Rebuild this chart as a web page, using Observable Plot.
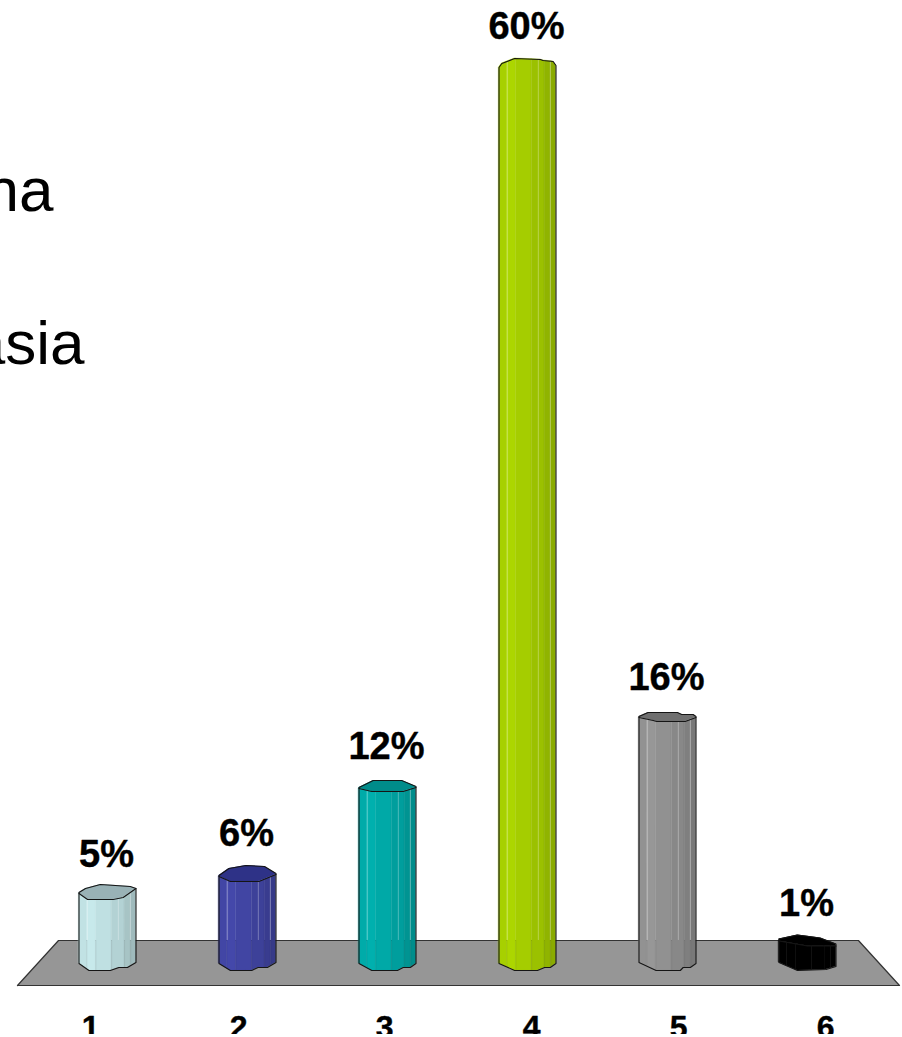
<!DOCTYPE html>
<html>
<head>
<meta charset="utf-8">
<script src="https://cdn.jsdelivr.net/npm/d3@7"></script>
<script src="https://cdn.jsdelivr.net/npm/@observablehq/plot@0.6"></script>
<style>
html,body{margin:0;padding:0;background:#fff;overflow:hidden}
svg{display:block}
</style>
</head>
<body>
<div id="chart"></div>
<script>
// Data
const categories = [1, 2, 3, 4, 5, 6];
const values = [4.6, 6, 11.8, 59.8, 16.4, 1.3];
const baseColors = ["#c7e9eb", "#4448aa", "#00b0ae", "#acd600", "#979797", "#000000"];
const capColors = ["#99b2b6", "#2e3287", "#008c8a", "#acd600", "#6f6f6f", "#000000"];

// Axis label and floor positions, in data units
const tickPositions = [0.879, 1.936, 2.979, 4.029, 5.079, 6.129];
const floorX = [0.357, 0.65, 6.364, 6.657, 0.357];
const floorY = [-1.533, 1.467, 1.467, -1.533, -1.533];

// Faceted outline of each column: [across, offset] pairs
const backProfiles = [
  [[-1,-1],[-.77,-5],[-.25,-9],[.8,-7],[1,-5]],
  [[-1,3],[-.65,-4],[-.05,-7],[.6,-6],[1,1]],
  [[-1,2],[-.5,-5],[.5,-5],[1,1]],
  [[-1,2],[-.9,-2],[-.45,-7],[.45,-6],[.55,-5],[.9,-4],[1,0]],
  [[-1,0],[-.68,-4],[.35,-4],[.5,-2],[.9,-2],[1,0]],
  [[-1,-4],[-.35,-8],[.45,-5],[1,1]]
];
const frontProfiles = [
  [[-1,0],[-.7,6],[.2,6],[.55,4],[1,-5]],
  [[-1,4],[-.6,9],[.4,9],[1,2]],
  [[-1,3],[-.55,6],[.55,6],[1,2]],
  null,
  [[-1,1],[-.5,4],[-.38,5],[.62,5],[1,1]],
  [[-1,-2],[0,3],[1,3]]
];
const bottomProfiles = [
  [[-1,1],[-.65,8],[.1,8],[.4,5],[.7,5],[1,0]],
  [[-1,1],[-.6,8],[.15,8],[.37,5],[.7,5],[1,0]],
  [[-1,1],[-.55,8],[.35,8],[.55,5],[.8,5],[1,1]],
  [[-1,1],[-.45,8],[.35,8],[.6,5],[.8,5],[1,1]],
  [[-1,0],[-.4,8],[.45,8],[.55,5],[.8,5],[1,1]],
  [[-1,0],[-.35,8],[.65,7],[1,4]]
];
const stripEdges = [-1,-.72,-.4,.15,.6,.82,1];
const stripShades = [.97,1,.96,.9,.84,.8];
const highlightEdges = [-.7,.38,.8];
const lowerEdges = [-.72,-.4,.15,.6,.82];
const sideLabels = [
  {text:"na", x:.614, y:50.13},
  {text:"asia", x:.836, y:39.93}
];

const halfWidth = 28.5 / 140;   // in x units
const pxPerUnit = 15;           // y units

function at(profile, u) {
  for (let i = 1; i < profile.length; i++) {
    const [a, p] = profile[i - 1], [b, q] = profile[i];
    if (u <= b) return p + (q - p) * (u - a) / (b - a);
  }
  return profile[profile.length - 1][1];
}
const us = (...ps) => Array.from(new Set(ps.flatMap(p => p.map(d => d[0])))).sort((a, b) => a - b);

const sideRows = [], capRows = [], outlineRows = [], frontRows = [], highlightRows = [], lowerRows = [];
categories.forEach((c, i) => {
  const v = values[i], back = backProfiles[i], front = frontProfiles[i] || back, bottom = bottomProfiles[i];
  const base = d3.rgb(baseColors[i]);
  const allU = us(back, front, bottom);
  stripShades.forEach((s, k) => {
    const lo = stripEdges[k], hi = stripEdges[k + 1];
    const fill = d3.rgb(base.r * s, base.g * s, base.b * s).formatHex();
    [lo, ...allU.filter(u => u > lo && u < hi), hi].forEach(u => sideRows.push({
      id: `${i}-${k}`, fill,
      x: c + u * halfWidth,
      y1: v - at(front, u) / pxPerUnit,
      y2: -at(bottom, u) / pxPerUnit
    }));
  });
  if (frontProfiles[i]) {
    us(back, front).forEach(u => capRows.push({
      id: i, fill: capColors[i],
      x: c + u * halfWidth,
      y1: v - at(back, u) / pxPerUnit,
      y2: v - at(front, u) / pxPerUnit
    }));
    front.forEach(([u, o]) => frontRows.push({id: i, x: c + u * halfWidth, y: v - o / pxPerUnit}));
  }
  const ring = [
    ...back.map(([u, o]) => [u, v - o / pxPerUnit]),
    ...bottom.slice().reverse().map(([u, o]) => [u, -o / pxPerUnit]),
    [back[0][0], v - back[0][1] / pxPerUnit]
  ];
  ring.forEach(([u, y]) => outlineRows.push({id: i, x: c + u * halfWidth, y}));
  if (v > 2) {
    highlightEdges.forEach(u => highlightRows.push({x: c + u * halfWidth, y1: v - at(front, u) / pxPerUnit, y2: floorY[1]}));
    lowerEdges.forEach(u => lowerRows.push({x: c + u * halfWidth, y1: floorY[1], y2: -at(bottom, u) / pxPerUnit}));
  }
});

const font = "'Liberation Sans', Arial, sans-serif";
const plot = Plot.plot({
  width: 902,
  height: 1034,
  margin: 0,
  style: {overflow: "hidden", background: "#fff"},
  x: {domain: [1, 6], range: [107, 807], axis: null},
  y: {domain: [0, 60], range: [962, 62], axis: null},
  color: {type: "identity"},
  marks: [
    Plot.line(floorX.map((x, i) => ({x, y: floorY[i]})), {x: "x", y: "y", fill: "#969696", stroke: "#333", strokeWidth: 1.2}),
    Plot.areaY(sideRows, {x: "x", y1: "y1", y2: "y2", z: "id", fill: "fill", stroke: "fill", strokeWidth: .4}),
    Plot.ruleX(highlightRows, {x: "x", y1: "y1", y2: "y2", stroke: "#fff", strokeOpacity: .3, strokeWidth: 1}),
    Plot.ruleX(lowerRows, {x: "x", y1: "y1", y2: "y2", stroke: "#000", strokeOpacity: .05, strokeWidth: 1}),
    Plot.areaY(capRows, {x: "x", y1: "y1", y2: "y2", z: "id", fill: "fill"}),
    Plot.line(frontRows, {x: "x", y: "y", z: "id", stroke: "#151515", strokeWidth: 1.1}),
    Plot.line(outlineRows, {x: "x", y: "y", z: "id", stroke: "#151515", strokeWidth: 1.1}),
    Plot.text(categories, {
      x: d => d, y: (d, i) => values[i], text: (d, i) => `${Math.round(values[i])}%`,
      dx: -1, dy: -39, fontSize: 38, fontWeight: "bold", fontFamily: font, fill: "#000", stroke: "#000", strokeWidth: .4
    }),
    Plot.text(categories, {
      x: (d, i) => tickPositions[i], y: () => -5, text: d => String(d), lineAnchor: "bottom",
      fontSize: 32, fontWeight: "bold", fontFamily: font, fill: "#000", stroke: "#000", strokeWidth: .4
    }),
    Plot.text(sideLabels, {
      x: "x", y: "y", text: "text", textAnchor: "end", lineAnchor: "bottom",
      fontSize: 62, fontFamily: font, fill: "#000"
    })
  ]
});
document.getElementById("chart").appendChild(plot);
</script>
</body>
</html>
